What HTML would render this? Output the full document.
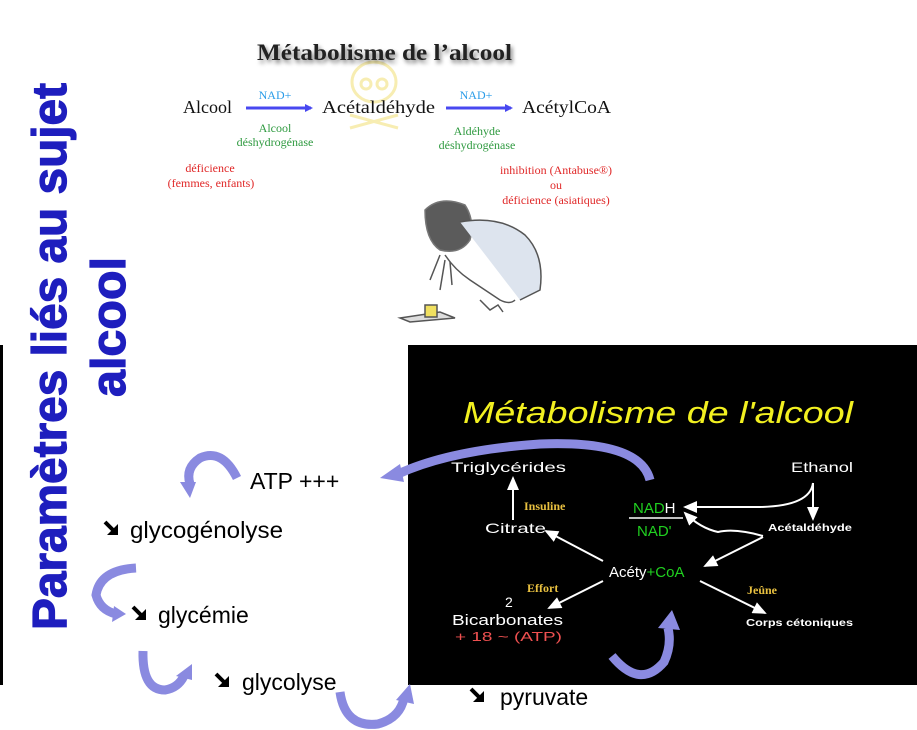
<!DOCTYPE html>
<html><head><meta charset="utf-8"><style>
html,body{margin:0;padding:0;background:#fff;width:917px;height:730px;overflow:hidden}
svg{display:block}
.vt{font-family:"Liberation Sans",Arial,sans-serif;font-weight:700;fill:#1e1ebe;font-size:48px;stroke:#1e1ebe;stroke-width:1.2px}
</style></head><body>
<svg width="917" height="730" viewBox="0 0 917 730" xmlns="http://www.w3.org/2000/svg">
<defs>
<filter id="sh" x="-10%" y="-30%" width="120%" height="160%"><feGaussianBlur in="SourceAlpha" stdDeviation="2"/><feOffset dx="2" dy="3"/><feComponentTransfer><feFuncA type="linear" slope="0.5"/></feComponentTransfer><feMerge><feMergeNode/><feMergeNode in="SourceGraphic"/></feMerge></filter>
<marker id="bh" markerWidth="8" markerHeight="8" refX="6" refY="4" orient="auto" markerUnits="userSpaceOnUse"><path d="M0,0 L8,4 L0,8 Z" fill="#4848f0"/></marker>
<marker id="wh" markerWidth="14" markerHeight="12" refX="12" refY="6" orient="auto" markerUnits="userSpaceOnUse"><path d="M0,0 L14,6 L0,12 Z" fill="#fff"/></marker>
<g id="da"><path d="M0,0 L10,10" stroke="#000" stroke-width="4"/><polygon points="13,2 13,13 2,13" fill="#000"/></g>
</defs>

<g font-family="Liberation Serif, serif">
<g fill="none" stroke="#f6e9a0" stroke-width="3" opacity="0.8">
<ellipse cx="374" cy="82" rx="22" ry="20"/>
<path d="M350 115 L398 128 M398 115 L350 128"/>
<circle cx="366" cy="84" r="5"/><circle cx="382" cy="84" r="5"/>
</g>
<text x="257" y="60" font-size="23" font-weight="bold" fill="#222" filter="url(#sh)" textLength="255" lengthAdjust="spacingAndGlyphs">Métabolisme de l’alcool</text>
<text x="183" y="113" font-size="18" fill="#111">Alcool</text>
<text x="322" y="113" font-size="18" fill="#111" textLength="113" lengthAdjust="spacingAndGlyphs">Acétaldéhyde</text>
<text x="522" y="113" font-size="18" fill="#111" textLength="89" lengthAdjust="spacingAndGlyphs">AcétylCoA</text>
<line x1="246" y1="108" x2="311" y2="108" stroke="#4848f0" stroke-width="3" marker-end="url(#bh)"/>
<line x1="446" y1="108" x2="511" y2="108" stroke="#4848f0" stroke-width="3" marker-end="url(#bh)"/>
<g font-size="12" fill="#2a9ce8" text-anchor="middle"><text x="275" y="99">NAD+</text><text x="476" y="99">NAD+</text></g>
<g font-size="12" fill="#2f9a40" text-anchor="middle">
<text x="275" y="132">Alcool</text><text x="275" y="146">déshydrogénase</text>
<text x="477" y="135">Aldéhyde</text><text x="477" y="149">déshydrogénase</text></g>
<g font-size="12" fill="#e02828" text-anchor="middle">
<text x="210" y="172">déficience</text><text x="211" y="187">(femmes, enfants)</text>
<text x="556" y="174">inhibition (Antabuse®)</text><text x="556" y="189">ou</text><text x="556" y="204">déficience (asiatiques)</text></g>
</g>
<g fill="none" stroke="#555" stroke-width="1.5">
<path d="M425 210 Q440 195 465 205 Q475 220 470 240 Q460 255 440 250 Q425 240 425 210 Z" fill="#333" opacity="0.8"/>
<path d="M460 222 Q500 215 525 235 Q545 255 540 290 L520 300" fill="#dde4ee"/>
<path d="M445 255 Q455 270 470 280 L500 300 Q510 305 515 300"/>
<path d="M440 255 L430 280 M445 260 L440 290 M450 262 L452 285"/>
<path d="M400 318 L440 312 L455 318 L410 322 Z" fill="#ddd"/>
<rect x="425" y="305" width="12" height="12" fill="#f0e060"/>
<path d="M480 300 L490 310 L498 305 L503 312"/>
</g>

<text class="vt" transform="translate(66,630) rotate(-90)" textLength="547" lengthAdjust="spacingAndGlyphs">Paramètres liés au sujet</text>
<text class="vt" transform="translate(125,397) rotate(-90)" textLength="140" lengthAdjust="spacingAndGlyphs">alcool</text>
<rect x="0" y="345" width="3" height="340" fill="#000"/>

<rect x="408" y="345" width="509" height="340" fill="#000"/>
<text x="463" y="423" font-family="Liberation Sans, sans-serif" font-style="italic" font-size="31" fill="#f2f020" textLength="390" lengthAdjust="spacingAndGlyphs">Métabolisme de l'alcool</text>
<g font-family="Liberation Sans, sans-serif" fill="#fff" font-size="14">
<text x="451" y="472" textLength="115" lengthAdjust="spacingAndGlyphs">Triglycérides</text>
<text x="791" y="472" textLength="62" lengthAdjust="spacingAndGlyphs">Ethanol</text>
<text x="485" y="533" textLength="61" lengthAdjust="spacingAndGlyphs">Citrate</text>
<text x="609" y="577" font-size="15">Acéty<tspan fill="#20d020">+CoA</tspan></text>
<text x="505" y="607">2</text>
<text x="452" y="625" textLength="111" lengthAdjust="spacingAndGlyphs" font-size="15">Bicarbonates</text>
<text x="455" y="641" fill="#ee5050" font-size="13" textLength="107" lengthAdjust="spacingAndGlyphs">+ 18 ~ (ATP)</text>
<text x="768" y="531" font-size="10" font-weight="bold" textLength="84" lengthAdjust="spacingAndGlyphs">Acétaldéhyde</text>
<text x="746" y="626" font-size="10" font-weight="bold" textLength="107" lengthAdjust="spacingAndGlyphs">Corps cétoniques</text>
<text x="633" y="513" fill="#20d020" font-size="15">NAD<tspan fill="#fff">H</tspan></text>
<text x="637" y="536" fill="#20d020" font-size="15">NAD'</text>
</g>
<line x1="629" y1="518" x2="683" y2="518" stroke="#fff" stroke-width="1.5"/>
<g font-family="Liberation Serif, serif" font-weight="bold" fill="#e8c040" font-size="12">
<text x="524" y="510">Insuline</text><text x="527" y="592">Effort</text><text x="747" y="594">Jeûne</text></g>
<g stroke="#fff" stroke-width="2" fill="none" marker-end="url(#wh)">
<line x1="513" y1="520" x2="513" y2="478"/>
<line x1="603" y1="561" x2="546" y2="531"/>
<line x1="603" y1="581" x2="549" y2="608"/>
<line x1="700" y1="581" x2="765" y2="613"/>
<line x1="763" y1="537" x2="705" y2="566"/>
<line x1="813" y1="483" x2="813" y2="519"/>
<path d="M813 483 Q810 506 760 507 L685 507"/>
<path d="M763 536 Q735 528 718 532 Q700 528 685 513"/>
</g>

<g fill="none" stroke="#8a8ae0" stroke-width="9" stroke-linecap="butt">
<path d="M650 480 Q640 440 540 444 Q450 450 398 474"/>
<path d="M612 656 Q640 690 664 662 Q672 645 668 628"/>
<path d="M237 478 Q222 448 200 458 Q185 468 190 484"/>
<path d="M136 568 Q100 570 96 595 Q100 610 116 614"/>
<path d="M143 651 Q142 690 165 690 Q178 688 184 676"/>
<path d="M340 692 Q345 728 378 724 Q400 718 404 698"/>
</g>
<g fill="#8a8ae0">
<polygon points="380,478 400,464 404,482"/>
<polygon points="658,628 672,610 680,630"/>
<polygon points="180,482 196,482 190,498"/>
<polygon points="114,606 126,614 112,622"/>
<polygon points="176,676 192,664 192,680"/>
<polygon points="396,700 410,684 414,704"/>
</g>

<use href="#da" x="105" y="522"/>
<use href="#da" x="133" y="607"/>
<use href="#da" x="216" y="674"/>
<use href="#da" x="471" y="689"/>
<g font-family="Liberation Sans, Arial, sans-serif" font-size="23" fill="#000">
<text x="250" y="489">ATP +++</text>
<text x="130" y="538" textLength="153" lengthAdjust="spacingAndGlyphs">glycogénolyse</text>
<text x="158" y="623">glycémie</text>
<text x="242" y="690">glycolyse</text>
<text x="500" y="705">pyruvate</text>
</g>
</svg>
</body></html>
